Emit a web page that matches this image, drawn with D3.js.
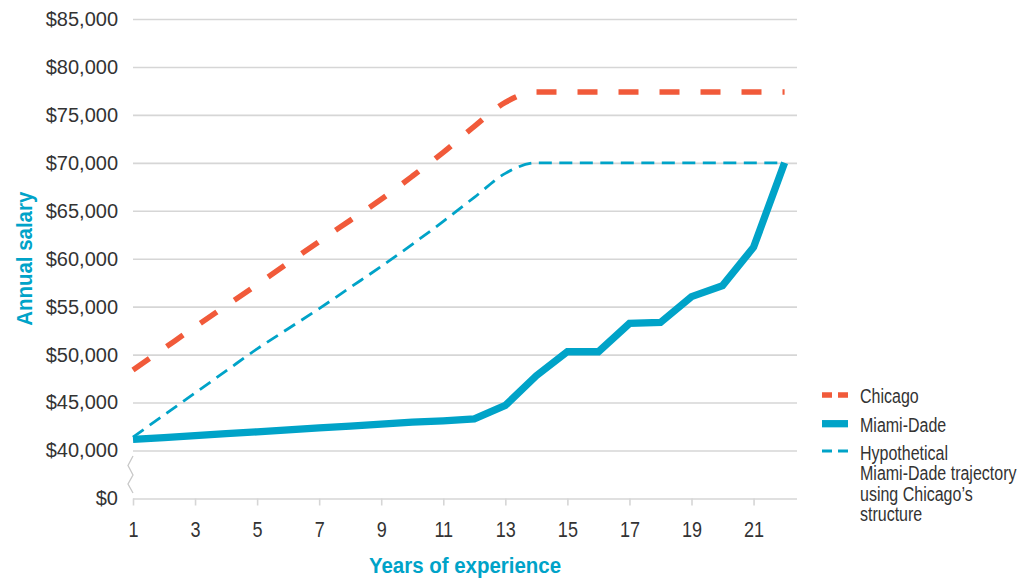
<!DOCTYPE html>
<html>
<head>
<meta charset="utf-8">
<script src="https://cdn.jsdelivr.net/npm/d3@7"></script>
<style>
  html, body { margin: 0; padding: 0; background: #fff; }
  svg { display: block; }
</style>
</head>
<body>
<svg id="chart" width="1033" height="580"></svg>
<script>
// ---- data ----
const years = [1, 2, 3, 4, 5, 6, 7, 8, 9, 10, 11, 12, 13, 14, 15, 16, 17, 18, 19, 20, 21, 22];
const chicago = [48400, 50650, 52900, 55100, 57300, 59550, 61800, 64000, 66200, 68600, 71100, 73800, 76300, 77400, 77400, 77400, 77400, 77400, 77400, 77400, 77400, 77400];
const miamiDade = [41150, 41350, 41550, 41750, 41950, 42150, 42350, 42550, 42750, 42950, 43100, 43300, 44700, 47800, 50300, 50300, 53250, 53350, 56050, 57200, 61200, 70000];
const hypothetical = [41400, 43700, 46000, 48300, 50600, 52700, 54800, 57000, 59200, 61500, 63900, 66400, 68900, 70000, 70000, 70000, 70000, 70000, 70000, 70000, 70000, 70000];
const yTickValues = [0, 40000, 45000, 50000, 55000, 60000, 65000, 70000, 75000, 80000, 85000];
const xTickValues = [1, 3, 5, 7, 9, 11, 13, 15, 17, 19, 21];
const seriesNames = ["Chicago", "Miami-Dade", "Hypothetical\nMiami-Dade trajectory\nusing Chicago\u2019s\nstructure"];
const xTitle = "Years of experience";
const yTitle = "Annual salary";

(function () {
// ---- layout ----
const orange = "#f15a3a";
const teal = "#00a3c8";
const grid = "#d6d6d6";
const FONT = "'Liberation Sans', Arial, sans-serif";
const pL = 133, pR = 797, pT = 19, pB = 498.5;

const svg = d3.select("#chart");

const x = d3.scaleLinear().domain([1, 22.4]).range([pL, pR]);
// broken axis: $0 sits one step below $40,000
const y = d3.scaleLinear().domain([0, 40000, 85000]).range([pB, 450.5, pT]);

// gridlines + y labels
const yAxis = svg.append("g")
  .attr("transform", `translate(${pL},0)`)
  .call(d3.axisLeft(y).tickValues(yTickValues).tickSize(-(pR - pL)).tickPadding(15)
    .tickFormat(d3.format("$,")));
yAxis.select(".domain").remove();
yAxis.selectAll(".tick line").attr("stroke", grid).attr("stroke-width", 1.6);
yAxis.selectAll(".tick text").attr("font-family", FONT)
  .attr("font-size", 20).attr("fill", "#333");

// x axis ticks + labels
const xAxis = svg.append("g")
  .attr("transform", `translate(0,${pB})`)
  .call(d3.axisBottom(x).tickValues(xTickValues).tickSize(7).tickPadding(16).tickFormat(d3.format("d")));
xAxis.select(".domain").remove();
xAxis.selectAll(".tick line").attr("stroke", grid).attr("stroke-width", 1.6);
xAxis.selectAll(".tick text").attr("font-family", FONT)
  .attr("font-size", 22).attr("fill", "#333")
  .attr("transform", "scale(0.82,1)");

// axis break zig-zag
const zz = [[0, 456], [-5, 465.5], [0, 475], [-5, 484], [0, 493]];
svg.append("path")
  .attr("d", d3.line()(zz.map(p => [pL + p[0], p[1]])))
  .attr("fill", "none").attr("stroke", "#c8c8c8").attr("stroke-width", 1.3);

// lines
const smooth = d3.line().x((d, i) => x(years[i])).y(d => y(d)).curve(d3.curveMonotoneX);
const straight = d3.line().x((d, i) => x(years[i])).y(d => y(d));

svg.append("path").datum(hypothetical)
  .attr("d", smooth).attr("fill", "none").attr("stroke", teal)
  .attr("stroke-width", 2.8).attr("stroke-dasharray", "13,7.5");

svg.append("path").datum(chicago)
  .attr("d", smooth).attr("fill", "none").attr("stroke", orange)
  .attr("stroke-width", 5.5).attr("stroke-dasharray", "20,21");

svg.append("path").datum(miamiDade)
  .attr("d", straight).attr("fill", "none").attr("stroke", teal)
  .attr("stroke-width", 7.3).attr("stroke-linejoin", "miter");

// legend
const legend = svg.append("g");
const lx0 = 822, lx1 = 848, tx = 860;
const legendItems = [
  { name: seriesNames[0], color: orange, width: 5.5, dash: "10,6", ly: 395, ty: 403 },
  { name: seriesNames[1], color: teal, width: 7.3, dash: null, ly: 423.7, ty: 431.5 },
  { name: seriesNames[2], color: teal, width: 2.8, dash: "10,6", ly: 451, ty: 459.5 }
];
legendItems.forEach(it => {
  legend.append("line").attr("x1", lx0).attr("x2", lx1).attr("y1", it.ly).attr("y2", it.ly)
    .attr("stroke", it.color).attr("stroke-width", it.width)
    .attr("stroke-dasharray", it.dash);
  const t = legend.append("text")
    .attr("transform", `translate(${tx},${it.ty}) scale(0.8,1)`)
    .attr("font-family", FONT)
    .attr("font-size", 20).attr("fill", "#333");
  it.name.split("\n").forEach((line, i) => {
    t.append("tspan").attr("x", 0).attr("dy", i === 0 ? 0 : 20.6).text(line);
  });
});

// axis titles
svg.append("text")
  .attr("transform", `translate(${(pL + pR) / 2},573) scale(0.93,1)`)
  .attr("text-anchor", "middle")
  .attr("font-family", FONT)
  .attr("font-weight", "bold").attr("font-size", 22).attr("fill", teal)
  .text(xTitle);

svg.append("text")
  .attr("transform", `translate(32,${(pT + pB) / 2}) rotate(-90) scale(0.93,1)`)
  .attr("text-anchor", "middle")
  .attr("font-family", FONT)
  .attr("font-weight", "bold").attr("font-size", 22).attr("fill", teal)
  .text(yTitle);
})();
</script>
</body>
</html>
